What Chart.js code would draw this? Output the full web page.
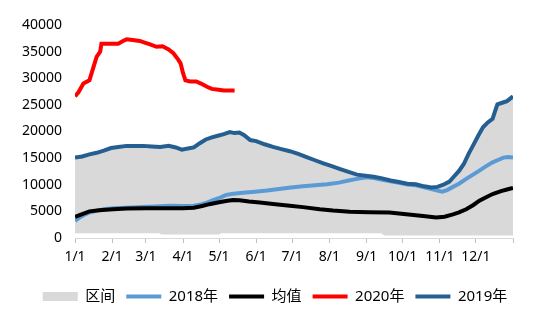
<!DOCTYPE html>
<html>
<head>
<meta charset="utf-8">
<script src="https://cdn.jsdelivr.net/npm/chart.js@4.4.1/dist/chart.umd.min.js"></script>
<style>
  html, body { margin: 0; padding: 0; background: #fff; }
  #wrap { width: 550px; height: 323px; }
</style>
</head>
<body>
<div id="wrap"><canvas id="rangeChart"></canvas></div>
<script>
// x axis: day of year, month starts get a label
const MONTH_DAYS = [0, 31, 59, 90, 120, 151, 181, 212, 243, 273, 304, 334, 365];
const MONTH_LABELS = ['1/1', '2/1', '3/1', '4/1', '5/1', '6/1', '7/1', '8/1', '9/1', '10/1', '11/1', '12/1', ''];
const Y_TICKS = [0, 5000, 10000, 15000, 20000, 25000, 30000, 35000, 40000];

// 2019
const DAYS_2019 = [0, 6, 12, 18, 24, 30, 36, 43, 50, 57, 64, 71, 78, 84, 89, 94, 99, 104, 109, 114,
  119, 124, 129, 133, 137, 141, 146, 151, 158, 165, 172, 179, 186, 193, 200, 207, 214, 221, 228, 235,
  242, 249, 256, 263, 270, 277, 284, 291, 297, 302, 307, 312, 316, 320, 324, 328, 332, 336, 340, 344,
  348, 350, 352, 356, 360, 365];
const VAL_2019 = [15100, 15300, 15700, 16000, 16400, 16900, 17100, 17300, 17300, 17300, 17200, 17100, 17300, 17000, 16600, 16800, 17000, 17800, 18500, 18900,
  19200, 19500, 19900, 19700, 19800, 19300, 18400, 18200, 17600, 17100, 16700, 16300, 15800, 15200, 14600, 14000, 13500, 12950, 12400, 11900,
  11700, 11500, 11200, 10800, 10500, 10200, 10100, 9700, 9500, 9600, 10000, 10600, 11600, 12600, 13900, 15800, 17500, 19200, 20800, 21700,
  22400, 23800, 25100, 25400, 25700, 26600];

// 2018
const DAYS_2018 = [0, 4, 8, 12, 18, 24, 32, 43, 55, 67, 79, 90, 99, 105, 110, 115, 121, 126, 132, 140,
  150, 160, 170, 180, 190, 200, 210, 220, 228, 235, 243, 250, 256, 263, 270, 277, 284, 291, 297, 302,
  306, 310, 315, 320, 326, 331, 337, 342, 348, 353, 357, 361, 365];
const VAL_2018 = [3200, 3850, 4400, 4800, 5100, 5400, 5600, 5700, 5800, 5900, 6050, 6000, 6050, 6300, 6650, 7100, 7600, 8100, 8300, 8500,
  8700, 8900, 9200, 9500, 9700, 9900, 10100, 10400, 10800, 11100, 11400, 11200, 10950, 10650, 10350, 10050, 9900, 9500, 9200, 8900,
  8700, 9000, 9600, 10200, 11100, 11800, 12650, 13400, 14200, 14700, 15100, 15200, 15100];

// 均值
const DAYS_AVG = [0, 6, 12, 20, 32, 43, 60, 79, 90, 99, 106, 112, 120, 127, 132, 137, 145, 154, 165, 179,
  190, 204, 215, 229, 245, 262, 276, 290, 301, 308, 315, 320, 326, 332, 337, 343, 348, 355, 360, 365];
const VAL_AVG = [3950, 4500, 5000, 5200, 5400, 5550, 5600, 5600, 5600, 5700, 6000, 6350, 6700, 7000, 7150, 7100, 6850, 6650, 6400, 6050,
  5800, 5400, 5150, 4950, 4850, 4800, 4450, 4150, 3850, 4000, 4450, 4800, 5400, 6200, 7000, 7700, 8250, 8800, 9100, 9400];

// 2020
const DAYS_2020 = [0, 3, 7, 12, 15, 18, 21, 22, 30, 36, 40, 43, 48, 54, 58, 62, 68, 73, 78, 82,
  86, 88, 90, 92, 96, 101, 105, 110, 114, 118, 124, 133];
const VAL_2020 = [26600, 27400, 29000, 29600, 31800, 34000, 35000, 36500, 36500, 36500, 37000, 37300, 37200, 37000, 36700, 36400, 35900, 36000, 35400, 34700,
  33500, 32800, 31000, 29600, 29400, 29400, 29000, 28400, 28000, 27900, 27700, 27700];

// 区间: upper edge follows the highest year, lower edge the lowest
const DAYS_RANGE_HIGH = DAYS_2019;
const VAL_RANGE_HIGH = [15100, 15300, 15700, 16000, 16400, 16900, 17100, 17300, 17300, 17300, 17200, 17100, 17300, 17000, 16600, 16800, 17000, 17800, 18500, 18900,
  19200, 19500, 19900, 19700, 19800, 19300, 18400, 18200, 17600, 17100, 16700, 16300, 15800, 15200, 14600, 14000, 13500, 12950, 12400, 11900,
  11700, 11500, 11200, 10800, 10500, 10200, 10100, 9700, 9500, 9600, 10000, 10600, 11600, 12600, 13900, 15800, 17500, 19200, 20800, 21700,
  22400, 23800, 25100, 25400, 25700, 26600];
const DAYS_RANGE_LOW = [0, 70, 72, 120, 122, 255, 258, 365];
const VAL_RANGE_LOW = [900, 900, 650, 650, 900, 900, 450, 450];

const toPoints = (xs, ys) => xs.map((x, i) => ({ x: x, y: ys[i] }));

const FONT = "'Noto Sans', 'Noto Sans CJK SC', sans-serif";
const AREA_GREY = '#d9d9d9';

const lineSet = (label, xs, ys, color, order) => ({
    label: label,
    data: toPoints(xs, ys),
    borderColor: color,
    backgroundColor: color,
    borderWidth: 4,
    pointRadius: 0,
    tension: 0,
    fill: false,
    order: order
});

const ctx = document.getElementById('rangeChart').getContext('2d');

new Chart(ctx, {
    type: 'line',
    data: {
        datasets: [
            {
                label: '区间',
                data: toPoints(DAYS_RANGE_HIGH, VAL_RANGE_HIGH),
                borderWidth: 0,
                borderColor: AREA_GREY,
                backgroundColor: AREA_GREY,
                pointRadius: 0,
                tension: 0,
                fill: 5,
                order: 10
            },
            lineSet('2018年', DAYS_2018, VAL_2018, '#5b9bd5', 4),
            lineSet('均值', DAYS_AVG, VAL_AVG, '#000000', 3),
            lineSet('2020年', DAYS_2020, VAL_2020, '#ff0000', 1),
            lineSet('2019年', DAYS_2019, VAL_2019, '#255e91', 2),
            {
                label: 'low',
                data: toPoints(DAYS_RANGE_LOW, VAL_RANGE_LOW),
                borderWidth: 0,
                pointRadius: 0,
                tension: 0,
                fill: false,
                order: 11
            }
        ]
    },
    options: {
        responsive: true,
        maintainAspectRatio: false,
        animation: false,
        layout: { padding: { left: 0, right: 0, top: 25, bottom: 9 } },
        plugins: {
            tooltip: { enabled: false },
            legend: {
                position: 'bottom',
                labels: {
                    color: '#000',
                    font: { family: FONT, size: 15 },
                    usePointStyle: true,
                    pointStyleWidth: 35,
                    boxHeight: 9,
                    padding: 11,
                    filter: item => item.datasetIndex < 5,
                    sort: (a, b) => a.datasetIndex - b.datasetIndex,
                    generateLabels(chart) {
                        const items = Chart.defaults.plugins.legend.labels.generateLabels(chart);
                        items.forEach(it => {
                            const ds = chart.data.datasets[it.datasetIndex];
                            if (ds.fill) {
                                it.pointStyle = 'rect';
                                it.fillStyle = AREA_GREY;
                                it.lineWidth = 0;
                            } else {
                                it.pointStyle = 'line';
                                it.strokeStyle = ds.borderColor;
                                it.lineWidth = 4;
                            }
                        });
                        return items;
                    }
                }
            }
        },
        scales: {
            x: {
                type: 'linear',
                min: 0,
                max: 365,
                afterBuildTicks(scale) {
                    scale.ticks = MONTH_DAYS.map(v => ({ value: v }));
                },
                afterFit(scale) { scale.height = 40; },
                ticks: {
                    autoSkip: false,
                    maxRotation: 0,
                    padding: 6,
                    color: '#000',
                    font: { family: FONT, size: 14 },
                    callback: (value) => MONTH_LABELS[MONTH_DAYS.indexOf(value)]
                },
                grid: {
                    drawOnChartArea: false,
                    color: '#bfbfbf',
                    tickLength: 5
                },
                border: { color: '#d9d9d9' }
            },
            y: {
                min: 0,
                max: 40000,
                afterBuildTicks(scale) {
                    scale.ticks = Y_TICKS.map(v => ({ value: v }));
                },
                afterFit(scale) { scale.width = 75; },
                ticks: {
                    padding: 13,
                    color: '#000',
                    font: { family: FONT, size: 14 },
                    callback: (value) => String(value)
                },
                grid: { display: false, drawTicks: false },
                border: { display: false }
            },
            // empty right-hand gutter so the legend stays centred on the page
            gutter: {
                position: 'right',
                afterFit(scale) { scale.width = 37; },
                ticks: { display: false },
                grid: { display: false, drawTicks: false },
                border: { display: false }
            }
        }
    }
});
</script>
</body>
</html>
